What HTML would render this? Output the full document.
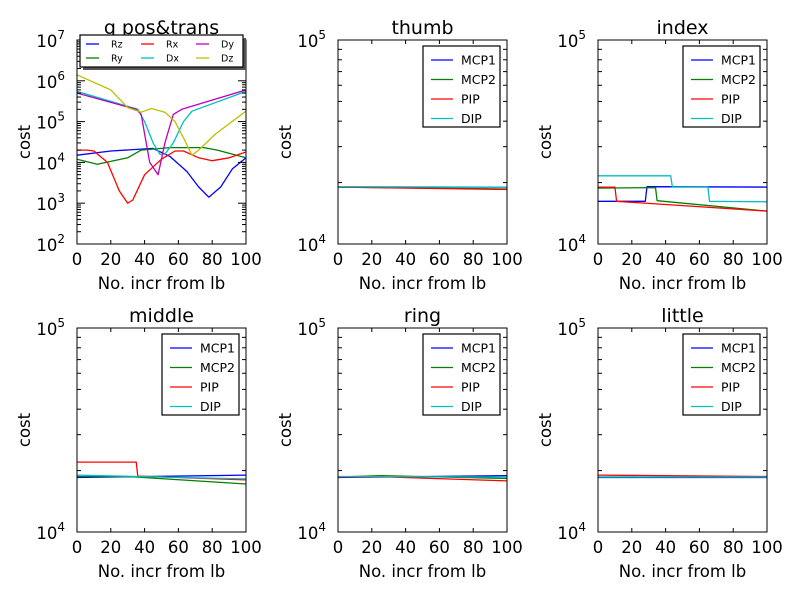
<!DOCTYPE html>
<html><head><meta charset="utf-8"><style>
body{margin:0;background:#fff}
svg{display:block;font-family:"DejaVu Sans","Liberation Sans",sans-serif}
</style></head><body>
<svg id="fig" width="800" height="595" xmlns="http://www.w3.org/2000/svg"></svg>
<script>
// ---- data ----
const xTicks=[0,20,40,60,80,100];
const legendA=["Rz","Ry","Rx","Dx","Dy","Dz"];
const colorsA={Rz:"#0000ff",Ry:"#008000",Rx:"#ff0000",Dx:"#00bfbf",Dy:"#bf00bf",Dz:"#bfbf00"};
const posX={
 Rz:[0,20,45,55,65,72,78,85,92,100],
 Ry:[0,12,30,38,55,75,83,100],
 Rx:[0,6,10,18,25,30,33,40,50,58,63,72,80,90,100],
 Dy:[0,35,38,40,43,48,52,57,62,100],
 Dx:[0,36,40,45,49,52,57,63,68,100],
 Dz:[0,20,30,38,44,52,58,63,68,72,82,100]};
const posY={
 Rz:[1.5e4,1.9e4,2.2e4,1.4e4,6e3,2.5e3,1.4e3,2.5e3,7e3,1.3e4],
 Ry:[1.2e4,9e3,1.3e4,2e4,2.3e4,2.3e4,2e4,1.3e4],
 Rx:[2e4,2e4,1.9e4,1e4,2e3,1e3,1.2e3,5e3,1.2e4,1.9e4,1.9e4,1.3e4,1.1e4,1.3e4,1.8e4],
 Dy:[5e5,2e5,1.5e5,5e4,1e4,5e3,3e4,1.5e5,2e5,6e5],
 Dx:[5.5e5,2e5,1e5,3e4,1.6e4,1.6e4,3e4,1e5,1.8e5,5.5e5],
 Dz:[1.4e6,6e5,2.2e5,1.7e5,2.1e5,1.7e5,1e5,4e4,1.5e4,2e4,5e4,1.8e5]};
const joints=["MCP1","MCP2","PIP","DIP"];
const jColors={MCP1:"#0000ff",MCP2:"#008000",PIP:"#ff0000",DIP:"#00bfbf"};
const fingerX={
 thumb:{MCP1:[0,100],MCP2:[0,100],PIP:[0,100],DIP:[0,100]},
 index:{MCP1:[0,28,29,100],MCP2:[0,34,35,100],PIP:[0,10,11,100],DIP:[0,43,44,65,66,100]},
 middle:{MCP1:[0,100],MCP2:[0,30,100],PIP:[0,35,36,100],DIP:[0,100]},
 ring:{MCP1:[0,100],MCP2:[0,25,100],PIP:[0,30,100],DIP:[0,100]},
 little:{MCP1:[0,100],MCP2:[0,100],PIP:[0,100],DIP:[0,100]}};
const fingerY={
 thumb:{MCP1:[1.9e4,1.9e4],MCP2:[1.9e4,1.86e4],PIP:[1.9e4,1.85e4],DIP:[1.91e4,1.9e4]},
 index:{MCP1:[1.62e4,1.62e4,1.91e4,1.9e4],MCP2:[1.88e4,1.89e4,1.63e4,1.45e4],PIP:[1.9e4,1.9e4,1.62e4,1.45e4],DIP:[2.16e4,2.16e4,1.9e4,1.9e4,1.62e4,1.61e4]},
 middle:{MCP1:[1.85e4,1.9e4],MCP2:[1.87e4,1.87e4,1.72e4],PIP:[2.2e4,2.2e4,1.88e4,1.8e4],DIP:[1.9e4,1.82e4]},
 ring:{MCP1:[1.85e4,1.89e4],MCP2:[1.86e4,1.89e4,1.83e4],PIP:[1.86e4,1.86e4,1.78e4],DIP:[1.87e4,1.86e4]},
 little:{MCP1:[1.85e4,1.85e4],MCP2:[1.86e4,1.86e4],PIP:[1.9e4,1.87e4],DIP:[1.86e4,1.86e4]}};
// ---- drawing ----
const NS="http://www.w3.org/2000/svg",svg=document.getElementById("fig");
function el(t,a,p){const e=document.createElementNS(NS,t);for(const k in a)e.setAttribute(k,a[k]);(p||svg).appendChild(e);return e;}
function txt(s,a,p){const e=el("text",a,p);e.textContent=s;return e;}
function panel(name,L,T,W,H,lo,hi,xs,ys,keys,cols,title){
 const g=el("g",{});
 
 
 const sx=v=>L+v/100*W, sy=v=>T+H-(Math.log10(v)-lo)/(hi-lo)*H;
 const cp=el("clipPath",{id:"c"+name},g);el("rect",{x:L,y:T,width:W,height:H},cp);
 keys.forEach(k=>{
  const d=xs[k].map((x,i)=>(i?"L":"M")+sx(x).toFixed(1)+","+sy(ys[k][i]).toFixed(1)).join("");
  const p=el("path",{d:d,fill:"none",stroke:cols[k],"stroke-width":1.3,"stroke-linejoin":"round","clip-path":"url(#c"+name+")"},g);
  
  
 });
 xTicks.forEach(t=>{const x=sx(t);
  el("line",{x1:x,x2:x,y1:T+H,y2:T+H-4,stroke:"#000"},g);el("line",{x1:x,x2:x,y1:T,y2:T+4,stroke:"#000"},g);
  const tl=txt(t,{x:x,y:T+H+21,"font-size":16.5,"text-anchor":"middle"},g);
  });
 for(let e=lo;e<=hi;e++){const y=sy(Math.pow(10,e));
  el("line",{x1:L,x2:L+8,y1:y,y2:y,stroke:"#000"},g);el("line",{x1:L+W,x2:L+W-8,y1:y,y2:y,stroke:"#000"},g);
  const tl=txt("10",{x:L-12,y:y+7,"font-size":16.5,"text-anchor":"end"},g);
  const sp=el("tspan",{dy:-8,"font-size":12},tl);sp.textContent=e;
  
  if(e<hi)for(let m=2;m<10;m++){const ym=sy(m*Math.pow(10,e));
   el("line",{x1:L,x2:L+4,y1:ym,y2:ym,stroke:"#000"},g);el("line",{x1:L+W,x2:L+W-4,y1:ym,y2:ym,stroke:"#000"},g);}
 }
 el("rect",{x:L,y:T,width:W,height:H,fill:"none",stroke:"#000","stroke-width":1},g);
 const ti=txt(title,{x:L+W/2,y:T-6,"font-size":19,"text-anchor":"middle"},g);
 
 const xl=txt("No. incr from lb",{x:L+W/2,y:T+H+45,"font-size":16.5,"text-anchor":"middle"},g);
 
 const yl=txt("cost",{x:0,y:0,"font-size":16.5,"text-anchor":"middle",transform:"translate("+(L-47)+","+(T+H/2)+") rotate(-90)"},g);
 
 if(keys.length===4){
  const lx=L+W-84,ly=T+6;
  const lg=el("g",{},g);
  el("rect",{x:lx,y:ly,width:77,height:81,fill:"#fff",stroke:"#000","stroke-width":1.2},lg);
  keys.forEach((k,i)=>{const y=ly+14+i*19.5;
   el("line",{x1:lx+8,x2:lx+30,y1:y,y2:y,stroke:cols[k],"stroke-width":1.3},lg);
   const t=txt(k,{x:lx+38,y:y+4.5,"font-size":12.5},lg);});
 } else {
  const lx=80,ly=35;
  const lg=el("g",{},g);
  el("rect",{x:lx+3,y:ly+3,width:163,height:32,fill:"#555"},lg);
  el("rect",{x:lx,y:ly,width:163,height:32,fill:"#fff",stroke:"#000","stroke-width":1.2},lg);
  keys.forEach((k,i)=>{const c=Math.floor(i/2),r=i%2;const x=lx+6+c*55,y=ly+9+r*14;
   el("line",{x1:x,x2:x+13,y1:y,y2:y,stroke:cols[k],"stroke-width":1.3},lg);
   const t=txt(k,{x:x+25,y:y+3.5,"font-size":9.5},lg);});
 }
}
const W=169,H=204;
panel("pos",77,40,W,H,2,7,posX,posY,legendA,colorsA,"g pos&trans");
panel("thumb",338,40,W,H,4,5,fingerX.thumb,fingerY.thumb,joints,jColors,"thumb");
panel("index",598,40,W,H,4,5,fingerX.index,fingerY.index,joints,jColors,"index");
panel("middle",77,328,W,H,4,5,fingerX.middle,fingerY.middle,joints,jColors,"middle");
panel("ring",338,328,W,H,4,5,fingerX.ring,fingerY.ring,joints,jColors,"ring");
panel("little",598,328,W,H,4,5,fingerX.little,fingerY.little,joints,jColors,"little");
</script>
</body></html>
